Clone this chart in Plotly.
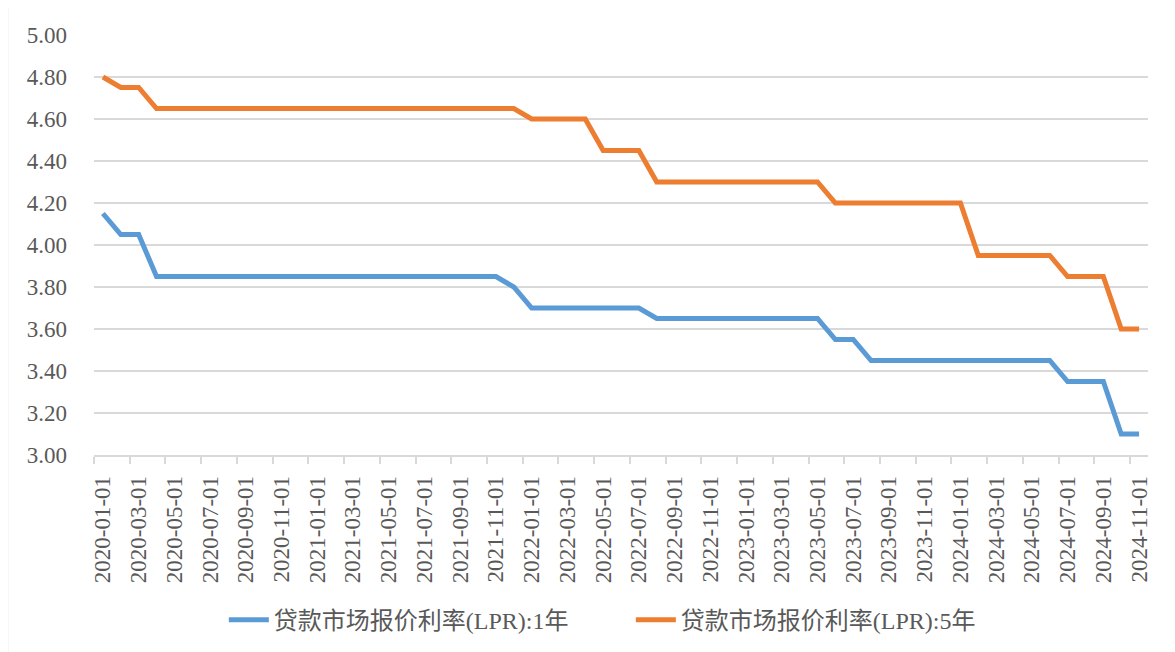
import plotly.graph_objects as go

dates = [f"{y}-{m:02d}-01" for y in range(2020, 2025) for m in range(1, 13)][:59]

lpr_1y = [4.15, 4.05, 4.05, 3.85, 3.85, 3.85, 3.85, 3.85, 3.85, 3.85, 3.85, 3.85,
          3.85, 3.85, 3.85, 3.85, 3.85, 3.85, 3.85, 3.85, 3.85, 3.85, 3.85, 3.80,
          3.70, 3.70, 3.70, 3.70, 3.70, 3.70, 3.70, 3.65, 3.65, 3.65, 3.65, 3.65,
          3.65, 3.65, 3.65, 3.65, 3.65, 3.55, 3.55, 3.45, 3.45, 3.45, 3.45, 3.45,
          3.45, 3.45, 3.45, 3.45, 3.45, 3.45, 3.35, 3.35, 3.35, 3.10, 3.10]

lpr_5y = [4.80, 4.75, 4.75, 4.65, 4.65, 4.65, 4.65, 4.65, 4.65, 4.65, 4.65, 4.65,
          4.65, 4.65, 4.65, 4.65, 4.65, 4.65, 4.65, 4.65, 4.65, 4.65, 4.65, 4.65,
          4.60, 4.60, 4.60, 4.60, 4.45, 4.45, 4.45, 4.30, 4.30, 4.30, 4.30, 4.30,
          4.30, 4.30, 4.30, 4.30, 4.30, 4.20, 4.20, 4.20, 4.20, 4.20, 4.20, 4.20,
          4.20, 3.95, 3.95, 3.95, 3.95, 3.95, 3.85, 3.85, 3.85, 3.60, 3.60]

series_names = ["贷款市场报价利率(LPR):1年", "贷款市场报价利率(LPR):5年"]
y_ticks = [3.0, 3.2, 3.4, 3.6, 3.8, 4.0, 4.2, 4.4, 4.6, 4.8, 5.0]

idx = list(range(len(dates)))
FONT = "'Liberation Serif', 'Times New Roman', 'DejaVu Serif', serif"
TXT = "#595959"
GRID = "#D9D9D9"

fig = go.Figure()
fig.add_trace(go.Scatter(x=idx, y=lpr_1y, mode="lines", name=series_names[0],
                         line=dict(color="#5B9BD5", width=5)))
fig.add_trace(go.Scatter(x=idx, y=lpr_5y, mode="lines", name=series_names[1],
                         line=dict(color="#ED7D31", width=5)))

fig.update_layout(
    width=1175, height=652,
    margin=dict(l=86, r=35, t=27, b=205, autoexpand=False),
    paper_bgcolor="white", plot_bgcolor="white",
    font=dict(family=FONT, size=23, color=TXT),
    showlegend=True,
    legend=dict(orientation="h", xref="container", x=0.1837, xanchor="left",
                yref="container", y=0.0613, yanchor="middle",
                font=dict(family=FONT + ", 'Noto Sans CJK SC'", size=24, color=TXT),
                itemwidth=40, entrywidth=352, entrywidthmode="pixels",
                tracegroupgap=0),
    xaxis=dict(range=[-0.5, len(dates) - 0.5], showgrid=False, zeroline=False,
               tickmode="array", tickvals=idx[::2], ticktext=dates[::2],
               tickangle=-90, ticks="outside", ticklen=8, tickcolor="rgba(0,0,0,0)",
               minor=dict(ticks="outside", tick0=-0.5, dtick=2, ticklen=7,
                          tickcolor=GRID, tickwidth=1.5, showgrid=False),
               showline=True, linecolor=GRID, linewidth=1.5,
               ticklabelstandoff=2, automargin=False,
               tickfont=dict(family=FONT, size=23, color=TXT)),
    yaxis=dict(range=[3.0, 5.0], tickmode="array", tickvals=y_ticks,
               tickformat=".2f", showgrid=True, gridcolor=GRID, gridwidth=1.5,
               zeroline=False, showline=False, ticks="",
               ticklabelstandoff=26, automargin=False,
               tickfont=dict(family=FONT, size=23, color=TXT)),
    shapes=[
        dict(type="line", xref="paper", yref="paper", x0=-0.0821, x1=1.05,
             y0=1.069, y1=1.069, line=dict(color=GRID, width=1.5)),
        dict(type="line", xref="paper", yref="paper", x0=-0.0821, x1=-0.0821,
             y0=1.069, y1=-0.5, line=dict(color=GRID, width=1.5)),
    ],
)

fig.write_html("out.html")
